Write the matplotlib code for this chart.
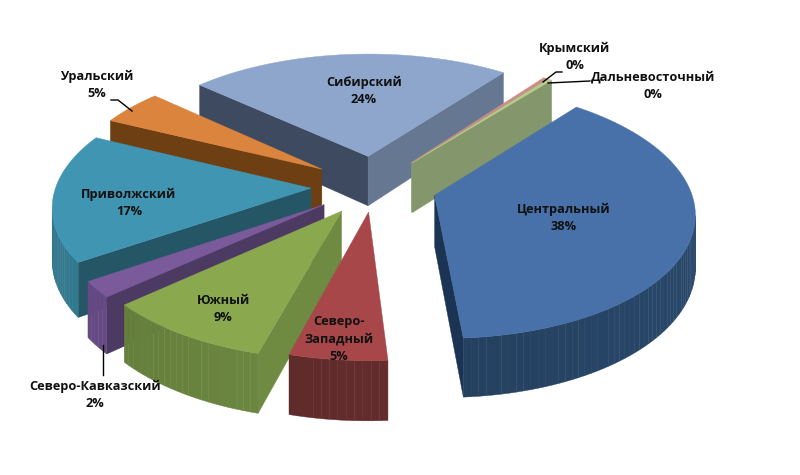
import numpy as np
import matplotlib
matplotlib.use('Agg')
import matplotlib.pyplot as plt
import matplotlib.colors as mcolors

names = ['Центральный', 'Северо-\nЗападный', 'Южный', 'Северо-Кавказский', 'Приволжский',
         'Уральский', 'Сибирский', 'Крымский', 'Дальневосточный']
shares = [38.1, 5.3, 9.2, 2.1, 16.6, 4.6, 23.5, 0.3, 0.3]

# styling of each slice, same order as names
explode = [63, 53, 60, 62, 63, 64, 64, 63, 63]
top_colors = ['#4771A8', '#A8474A', '#8AA94F', '#7A5A9B', '#4096B2', '#DB843D', '#8FA6CC', '#CF8A88', '#B7CC8C']
wall_colors = ['#24405F', '#632C2C', '#6F8B42', '#6F5190', '#38869F', '#8A4F1C', '#56657F', '#8A5A5A', '#8A9A6E']
end_colors = ['#1C3454', '#632C2C', '#6F8B42', '#4D3A63', '#255666', '#6F3F14', '#667891', '#8A9A6E', '#84966C']
start_colors = ['#1C3454', '#632C2C', '#6F8B42', '#4D3A63', '#255666', '#6F3F14', '#3D4A60', '#8A9A6E', '#84966C']
draw_order = [6, 7, 8, 0, 5, 4, 3, 2, 1]

label_pos = [(564, 218), (339, 339), (223, 309), (95, 395), (129, 203),
             (97, 85), (364, 91), (575, 57), (653, 86)]

start_angle = 39.0
radius = 255
depth = 51
cx, cy = 374, 186
squash = 0.48
persp = 2000.0


def project(X, Y, down=0.0):
    k = 1.0 / (1.0 + Y / persp)
    return cx + X * k, cy - squash * Y * k + down * k


def shade(color, f):
    r = np.array(mcolors.to_rgb(color)) * f
    return tuple(np.clip(r, 0, 1))


def wall_quad(x0, y0, x1, y1):
    tx0, ty0 = project(x0, y0)
    tx1, ty1 = project(x1, y1)
    bx0, by0 = project(x0, y0, depth)
    bx1, by1 = project(x1, y1, depth)
    return [tx0, tx1, bx1, bx0], [ty0, ty1, by1, by0]


def faces_viewer(nx, ny, x, y):
    # camera sits in front of the pie on the ground plane
    return nx * (0 - x) + ny * (-persp - y) > 0


fig = plt.figure(figsize=(8, 4.75), dpi=100)
ax = fig.add_axes([0, 0, 1, 1])
ax.set_xlim(0, 800)
ax.set_ylim(475, 0)
ax.axis('off')

edges = start_angle + np.cumsum([0] + shares) * 360.0 / sum(shares)

for n, i in enumerate(draw_order):
    a0, a1 = np.radians(edges[i]), np.radians(edges[i + 1])
    mid = (a0 + a1) / 2
    ox, oy = explode[i] * np.sin(mid), explode[i] * np.cos(mid)
    steps = max(int(np.degrees(a1 - a0) / 1.5), 2)
    th = np.linspace(a0, a1, steps + 1)
    px = ox + radius * np.sin(th)
    py = oy + radius * np.cos(th)
    z = 10 + n * 5

    # cut faces
    if faces_viewer(-np.cos(a0), np.sin(a0), ox, oy):
        xs, ys = wall_quad(ox, oy, px[0], py[0])
        ax.fill(xs, ys, facecolor=start_colors[i], edgecolor=start_colors[i], linewidth=0.3, zorder=z)
    if faces_viewer(np.cos(a1), -np.sin(a1), ox, oy):
        xs, ys = wall_quad(ox, oy, px[-1], py[-1])
        ax.fill(xs, ys, facecolor=end_colors[i], edgecolor=end_colors[i], linewidth=0.3, zorder=z)

    # outer wall, small quads with a soft gradient
    for j in range(steps):
        tm = (th[j] + th[j + 1]) / 2
        if faces_viewer(np.sin(tm), np.cos(tm), px[j], py[j]):
            xs, ys = wall_quad(px[j], py[j], px[j + 1], py[j + 1])
            c = shade(wall_colors[i], 1.0 + 0.12 * np.sin(tm))
            ax.fill(xs, ys, facecolor=c, edgecolor=c, linewidth=0.3, zorder=z + 1)

    # top
    tx, ty = project(np.r_[ox, px], np.r_[oy, py])
    ax.fill(tx, ty, facecolor=top_colors[i], edgecolor=top_colors[i], linewidth=0.3, zorder=z + 2)

# labels
for i in range(len(names)):
    ax.text(label_pos[i][0], label_pos[i][1], '%s\n%d%%' % (names[i], round(shares[i])),
            ha='center', va='center', fontsize=9.2, fontweight='bold', family='Open Sans',
            color='#111111', linespacing=1.45, zorder=100)

# leader lines
ax.plot([111, 118, 132], [100, 100, 111], color='k', lw=1, zorder=90)
ax.plot([562, 556, 543], [72, 72, 82], color='k', lw=1, zorder=90)
ax.plot([590, 548], [81, 83], color='k', lw=1, zorder=90)
ax.plot([103, 103], [345, 375], color='k', lw=1, zorder=90)

fig.savefig('out.png', dpi=100)
